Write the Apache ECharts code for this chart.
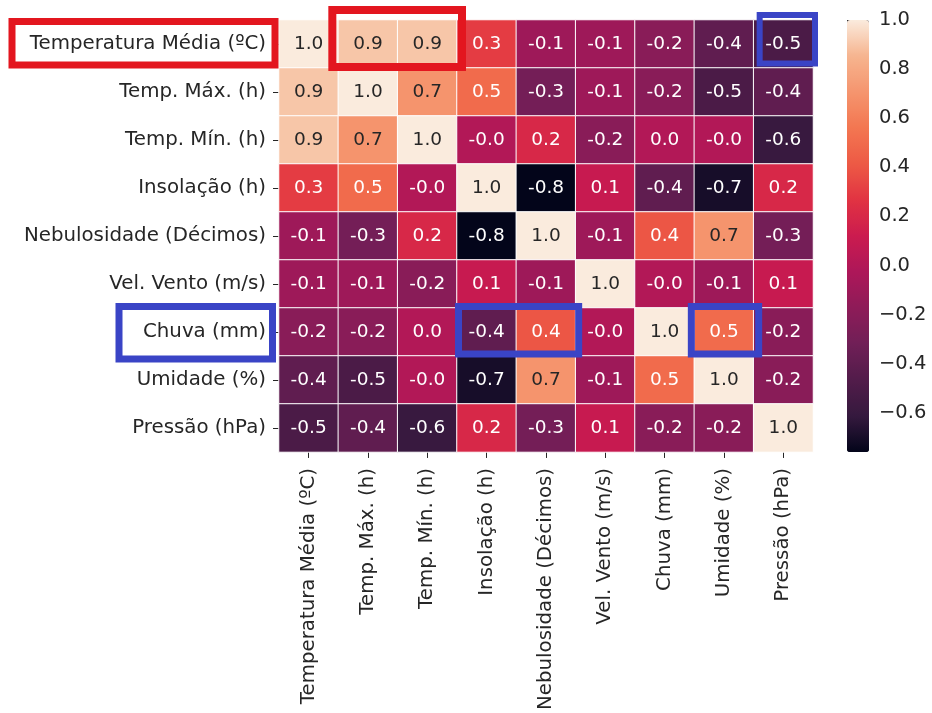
<!DOCTYPE html>
<html>
<head>
<meta charset="utf-8">
<script src="https://cdn.jsdelivr.net/npm/echarts@6/dist/echarts.min.js"></script>
<style>
  html, body { margin: 0; padding: 0; background: #ffffff; }
  #chart { width: 932px; height: 713px; }
</style>
</head>
<body>
<div id="chart"></div>
<script>
// Weather variables (rows top to bottom, columns left to right)
const variables = [
  'Temperatura Média (ºC)',
  'Temp. Máx. (h)',
  'Temp. Mín. (h)',
  'Insolação (h)',
  'Nebulosidade (Décimos)',
  'Vel. Vento (m/s)',
  'Chuva (mm)',
  'Umidade (%)',
  'Pressão (hPa)'
];

// Pearson correlation matrix, one array per row
const corrTempMedia    = [ 1.0,  0.9,  0.9,  0.3, -0.1, -0.1, -0.2, -0.4, -0.5];
const corrTempMax      = [ 0.9,  1.0,  0.7,  0.5, -0.3, -0.1, -0.2, -0.5, -0.4];
const corrTempMin      = [ 0.9,  0.7,  1.0, -0.0,  0.2, -0.2,  0.0, -0.0, -0.6];
const corrInsolacao    = [ 0.3,  0.5, -0.0,  1.0, -0.8,  0.1, -0.4, -0.7,  0.2];
const corrNebulosidade = [-0.1, -0.3,  0.2, -0.8,  1.0, -0.1,  0.4,  0.7, -0.3];
const corrVento        = [-0.1, -0.1, -0.2,  0.1, -0.1,  1.0, -0.0, -0.1,  0.1];
const corrChuva        = [-0.2, -0.2,  0.0, -0.4,  0.4, -0.0,  1.0,  0.5, -0.2];
const corrUmidade      = [-0.4, -0.5, -0.0, -0.7,  0.7, -0.1,  0.5,  1.0, -0.2];
const corrPressao      = [-0.5, -0.4, -0.6,  0.2, -0.3,  0.1, -0.2, -0.2,  1.0];

const correlationRows = [
  corrTempMedia, corrTempMax, corrTempMin, corrInsolacao, corrNebulosidade,
  corrVento, corrChuva, corrUmidade, corrPressao
];

// Colour bar range and tick labels
const colorbarMin = -0.76;
const colorbarMax = 1.0;
const colorbarTicks = [-0.6, -0.4, -0.2, 0.0, 0.2, 0.4, 0.6, 0.8, 1.0];

// "rocket" colour map, evenly spaced stops from low to high
const rocketStops = [
  '#03051a', '#35193e', '#521c4a', '#701f57', '#8e1b58', '#ad1759', '#cb1b4f',
  '#e13342', '#ed5a45', '#f37651', '#f5956e', '#f6b48f', '#faebdd'
];

const cells = [];
correlationRows.forEach((row, r) => {
  row.forEach((v, c) => cells.push([c, r, v]));
});

function fmtCell(v) {
  return Object.is(v, -0) ? '-0.0' : v.toFixed(1);
}

const textColor = '#262626';
const fontFamily = '"DejaVu Sans", sans-serif';
const axisFont = 19.8;
const cellFont = 18.5;
const barFont = 19.5;

const GRID = { left: 279, top: 20, width: 534, height: 433 };
const BAR = { left: 847, top: 20, width: 22, height: 432 };

const chart = echarts.init(document.getElementById('chart'), null, { renderer: 'canvas' });

chart.setOption({
  backgroundColor: '#ffffff',
  animation: false,
  textStyle: { fontFamily: fontFamily },
  grid: [
    { left: GRID.left, top: GRID.top, width: GRID.width, height: GRID.height, containLabel: false },
    { left: BAR.left, top: BAR.top, width: BAR.width, height: BAR.height, containLabel: false }
  ],
  xAxis: [
    {
      type: 'category',
      gridIndex: 0,
      data: variables,
      position: 'bottom',
      axisLine: { show: false },
      axisTick: { show: true, alignWithLabel: true, length: 6, lineStyle: { color: textColor, width: 1 } },
      axisLabel: { rotate: 90, margin: 16, color: textColor, fontSize: axisFont, fontFamily: fontFamily, interval: 0 },
      splitLine: { show: false }
    },
    { type: 'value', gridIndex: 1, show: false, min: 0, max: 1 }
  ],
  yAxis: [
    {
      type: 'category',
      gridIndex: 0,
      data: variables,
      inverse: true,
      axisLine: { show: false },
      axisTick: { show: true, alignWithLabel: true, length: 6, lineStyle: { color: textColor, width: 1 } },
      axisLabel: { margin: 13, color: textColor, fontSize: axisFont, fontFamily: fontFamily, interval: 0 },
      splitLine: { show: false }
    },
    {
      type: 'value',
      gridIndex: 1,
      position: 'right',
      min: colorbarMin,
      max: colorbarMax,
      axisLine: { show: false },
      splitLine: { show: false },
      axisTick: {
        show: true, inside: false, length: 6, customValues: colorbarTicks,
        lineStyle: { color: textColor, width: 1 }
      },
      axisLabel: {
        show: true, margin: 10, color: textColor, fontSize: barFont, fontFamily: fontFamily,
        customValues: colorbarTicks,
        formatter: (v) => v.toFixed(1).replace('-', '\u2212')
      }
    }
  ],
  visualMap: {
    type: 'continuous',
    seriesIndex: 0,
    dimension: 2,
    min: colorbarMin,
    max: colorbarMax,
    calculable: false,
    orient: 'vertical',
    left: BAR.left,
    top: BAR.top,
    itemWidth: BAR.width,
    itemHeight: BAR.height,
    padding: 0,
    text: null,
    showLabel: false,
    hoverLink: false,
    inRange: { color: rocketStops },
    outOfRange: { color: ['#03051a'] }
  },
  series: [
    {
      type: 'heatmap',
      xAxisIndex: 0,
      yAxisIndex: 0,
      data: cells,
      itemStyle: { borderColor: '#ffffff', borderWidth: 1 },
      emphasis: { disabled: true },
      label: {
        show: true,
        fontFamily: fontFamily,
        fontSize: cellFont,
        formatter: (p) => {
          const v = p.data[2];
          const key = v >= 0.6 ? 'd' : 'w';
          return '{' + key + '|' + fmtCell(v) + '}';
        },
        rich: {
          d: { color: textColor, fontSize: cellFont, fontFamily: fontFamily },
          w: { color: '#ffffff', fontSize: cellFont, fontFamily: fontFamily }
        }
      }
    }
  ]
});

// Highlight frames drawn over the matrix, placed from cell edges
const RED = '#e3161f';
const BLUE = '#3a44c6';
const cellW = GRID.width / variables.length;
const cellH = GRID.height / variables.length;

function cellEdges(c0, c1, r0, r1) {
  const a = chart.convertToPixel({ gridIndex: 0 }, [c0, r0]);
  const b = chart.convertToPixel({ gridIndex: 0 }, [c1, r1]);
  return {
    x0: a[0] - cellW / 2, x1: b[0] + cellW / 2,
    y0: a[1] - cellH / 2, y1: b[1] + cellH / 2
  };
}

const frames = [];
function frame(color, lw, x0, y0, x1, y1) {
  frames.push({
    type: 'rect',
    silent: true,
    z: 100,
    shape: { x: x0, y: y0, width: x1 - x0, height: y1 - y0 },
    style: { fill: null, stroke: color, lineWidth: lw }
  });
}

// row label "Temperatura Média (ºC)"
let e = cellEdges(0, 0, 0, 0);
frame(RED, 7, 12, e.y0 + 1.5, GRID.left - 4, e.y1 - 3);
// cells Temp. Máx. / Temp. Mín. on the first row
e = cellEdges(1, 2, 0, 0);
frame(RED, 8, e.x0 - 6, e.y0 - 10, e.x1 + 5, e.y1 - 1);
// Pressão on the first row
e = cellEdges(8, 8, 0, 0);
frame(BLUE, 6, e.x0 + 6, e.y0 - 5, e.x1 + 2, e.y1 - 4.5);
// row label "Chuva (mm)"
e = cellEdges(0, 0, 6, 6);
frame(BLUE, 7, 119, e.y0 - 1.5, GRID.left - 6.5, e.y1 + 3);
// Chuva vs Insolação / Nebulosidade
e = cellEdges(3, 4, 6, 6);
frame(BLUE, 7, e.x0 + 1.5, e.y0 - 1.5, e.x1 + 3, e.y1 - 2);
// Chuva vs Umidade
e = cellEdges(7, 7, 6, 6);
frame(BLUE, 7, e.x0 - 3, e.y0 - 1.5, e.x1 + 5, e.y1 - 2);

chart.setOption({ graphic: { elements: frames } });
</script>
</body>
</html>
